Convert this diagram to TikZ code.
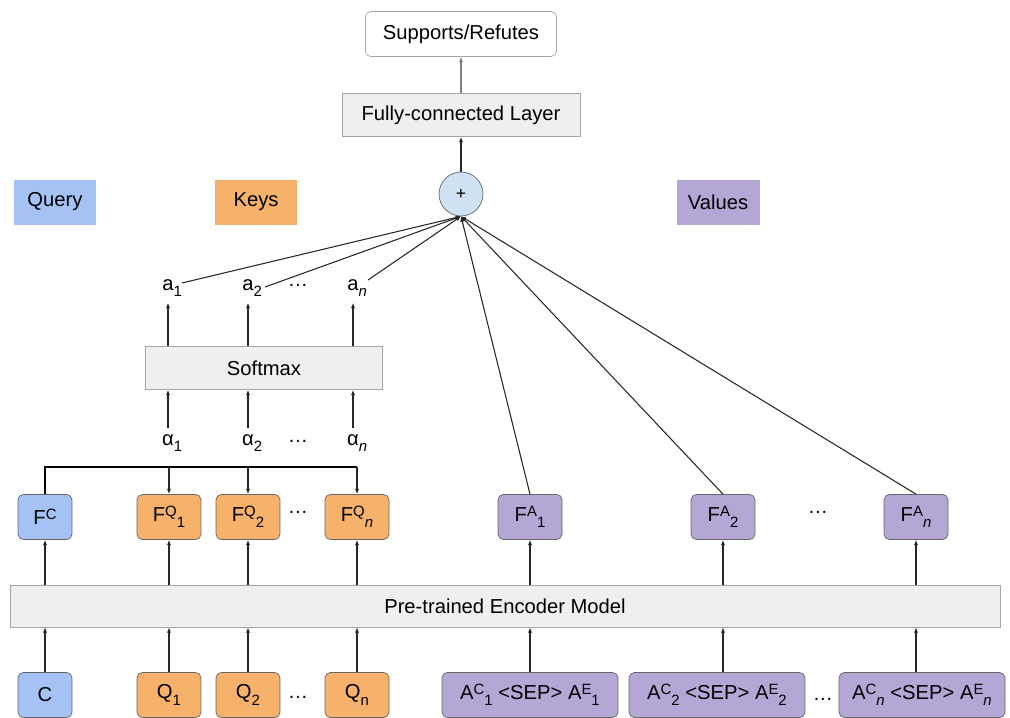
\documentclass[tikz,border=0pt]{standalone}
\usepackage{fontspec}
\setmainfont{Liberation Sans}
\usetikzlibrary{arrows.meta}
\definecolor{qblue}{HTML}{A4C2F4}
\definecolor{korange}{HTML}{F6B26B}
\definecolor{vpurple}{HTML}{B4A7D6}
\definecolor{lgray}{HTML}{EFEFEF}
\definecolor{pblue}{HTML}{CFE2F3}
\definecolor{edge}{HTML}{666666}
\newcommand{\supx}[1]{\raisebox{2.6pt}{\fontsize{8.5}{9}\selectfont #1}}
\newcommand{\subx}[1]{\raisebox{-3.6pt}{\fontsize{8.5}{9}\selectfont #1}}
\newcommand{\supsub}[3]{#1\supx{#2}\subx{#3}}
\begin{document}
\begin{tikzpicture}[x=0.02cm, y=-0.02cm, font=\fontsize{11.5}{13}\selectfont,
  feat/.style={draw=edge, rounded corners=3pt, minimum height=0.9cm, inner sep=0pt},
  layer/.style={draw=gray!70, fill=lgray, inner sep=0pt},
  legend/.style={minimum width=1.66cm, minimum height=0.9cm, inner sep=0pt},
  arr/.style={-{Latex[length=3pt,width=2.4pt]}, draw=black!85, line width=0.6pt}]
\useasboundingbox (0,0) rectangle (1010,717);

\node[feat, draw=gray!70, minimum width=3.82cm] (out) at (461,34) {Supports/Refutes};
\node[layer, minimum width=4.76cm, minimum height=0.86cm] (dense) at (461,115) {Fully-connected Layer};
\node[circle, draw=edge, fill=pblue, minimum size=0.88cm, inner sep=0pt, font=\fontsize{10}{12}\selectfont] (plus) at (461,194) {+};

\node[legend, fill=qblue] (query) at (55,202) {Query};
\node[legend, fill=korange] (keys) at (256,202) {Keys};
\node[legend, fill=vpurple] (values) at (718,202) {Values};

\node (a1) at (168,288) {a\rlap{\subx{1}}};
\node (a2) at (248,288) {a\rlap{\subx{2}}};
\node (d1) at (298,285) {\dots};
\node (an) at (353,288) {a\rlap{\subx{\textit{n}}}};

\node[layer, minimum width=4.74cm, minimum height=0.86cm] (soft) at (264,368) {Softmax};

\node (al1) at (168,443) {α\rlap{\subx{1}}};
\node (al2) at (248,443) {α\rlap{\subx{2}}};
\node (d2) at (298,441) {\dots};
\node (aln) at (353,443) {α\rlap{\subx{\textit{n}}}};

\node[feat, fill=qblue, minimum width=1.08cm] (fC) at (45,517) {F\supx{C}};
\node[feat, fill=korange, minimum width=1.28cm] (fq1) at (169,517) {\supsub{F}{Q}{1}};
\node[feat, fill=korange, minimum width=1.28cm] (fq2) at (248,517) {\supsub{F}{Q}{2}};
\node (d3) at (298,512) {\dots};
\node[feat, fill=korange, minimum width=1.28cm] (fqn) at (357,517) {\supsub{F}{Q}{\textit{n}}};
\node[feat, fill=vpurple, minimum width=1.28cm] (fa1) at (530,517) {\supsub{F}{A}{1}};
\node[feat, fill=vpurple, minimum width=1.28cm] (fa2) at (723,517) {\supsub{F}{A}{2}};
\node (d4) at (818,512) {\dots};
\node[feat, fill=vpurple, minimum width=1.28cm] (fan) at (916,517) {\supsub{F}{A}{\textit{n}}};

\node[layer, minimum width=19.8cm, minimum height=0.84cm] (enc) at (505,606) {Pre-trained Encoder Model};

\node[feat, fill=qblue, minimum width=1.08cm] (c) at (45,695) {C};
\node[feat, fill=korange, minimum width=1.28cm] (q1) at (169,695) {Q\subx{1}};
\node[feat, fill=korange, minimum width=1.28cm] (q2) at (248,695) {Q\subx{2}};
\node (d5) at (298,697) {\dots};
\node[feat, fill=korange, minimum width=1.28cm] (qn) at (357,695) {Q\subx{n}};
\node[feat, fill=vpurple, minimum width=3.52cm] (v1) at (530,695) {\supsub{A}{C}{1} <SEP> \supsub{A}{E}{1}};
\node[feat, fill=vpurple, minimum width=3.52cm] (v2) at (717,695) {\supsub{A}{C}{2} <SEP> \supsub{A}{E}{2}};
\node (d6) at (823,699) {\dots};
\node[feat, fill=vpurple, minimum width=3.32cm] (vn) at (922,695) {\supsub{A}{C}{\textit{n}} <SEP> \supsub{A}{E}{\textit{n}}};

\coordinate (bus) at (0,467);

\draw[arr] (c) -- (c |- enc.south);
\draw[arr] (q1) -- (q1 |- enc.south);
\draw[arr] (q2) -- (q2 |- enc.south);
\draw[arr] (qn) -- (qn |- enc.south);
\draw[arr] (fa1 |- v1.north) -- (fa1 |- enc.south);
\draw[arr] (fa2 |- v2.north) -- (fa2 |- enc.south);
\draw[arr] (fan |- vn.north) -- (fan |- enc.south);

\draw[arr] (fC |- enc.north) -- (fC);
\draw[arr] (fq1 |- enc.north) -- (fq1);
\draw[arr] (fq2 |- enc.north) -- (fq2);
\draw[arr] (fqn |- enc.north) -- (fqn);
\draw[arr] (fa1 |- enc.north) -- (fa1);
\draw[arr] (fa2 |- enc.north) -- (fa2);
\draw[arr] (fan |- enc.north) -- (fan);

\draw[line width=0.8pt] (fC.north) -- (fC |- bus) -- (fqn |- bus);
\draw[arr] (fq1 |- bus) -- (fq1);
\draw[arr] (fq2 |- bus) -- (fq2);
\draw[arr] (fqn |- bus) -- (fqn);

\draw[arr] (al1) -- (al1 |- soft.south);
\draw[arr] (al2) -- (al2 |- soft.south);
\draw[arr] (aln) -- (aln |- soft.south);
\draw[arr] (a1 |- soft.north) -- (a1);
\draw[arr] (a2 |- soft.north) -- (a2);
\draw[arr] (an |- soft.north) -- (an);

\draw[arr] ([shift={(14,-5)}]a1.center) -- (plus.south);
\draw[arr] ([shift={(17,-1)}]a2.center) -- (plus.south);
\draw[arr] ([shift={(15,-8)}]an.center) -- (plus.south);
\draw[arr] (fa1.north) -- (plus.south);
\draw[arr] (fa2.north) -- (plus.south);
\draw[arr] (fan.north) -- (plus.south);

\draw[arr] (plus) -- (dense);
\draw[arr, draw=gray] (dense) -- (out);
\end{tikzpicture}
\end{document}
